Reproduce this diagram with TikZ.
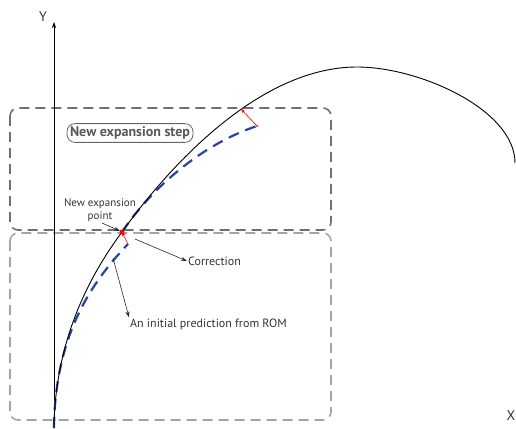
\documentclass[tikz,border=0pt]{standalone}
\usepackage{fontspec}
\setmainfont{PT Sans}
\usetikzlibrary{arrows.meta}
\definecolor{predblue}{RGB}{38,68,158}
\definecolor{framedark}{RGB}{112,112,112}
\definecolor{framelight}{RGB}{165,165,165}

\begin{document}
\begin{tikzpicture}[x=1pt,y=-1pt,
  stepframe/.style={draw=framedark, line width=1.6pt, dash pattern=on 10pt off 6pt, rounded corners=8pt},
  predframe/.style={draw=framelight, line width=1.6pt, dash pattern=on 10pt off 6pt, rounded corners=8pt},
  pred/.style={predblue, line width=2.2pt, dash pattern=on 11pt off 7pt},
  corr/.style={red, line width=0.6pt, -{Stealth[length=4.5pt,width=3.5pt]}},
  note/.style={black!85, line width=0.6pt, -{Stealth[length=6pt,width=4pt]}},
  lbl/.style={font=\fontsize{12}{14}\selectfont, text=black!80, inner sep=1pt}]
\useasboundingbox (0,0) rectangle (516,428);

\coordinate (o) at (54,428);
\coordinate (p0) at (122,232);
\coordinate (q1) at (128,244);
\coordinate (p1) at (241,109);
\coordinate (q2) at (257,126);
\coordinate (top) at (357,67);
\coordinate (e) at (515,163);

% boxes of the two steps
\draw[predframe] (10,233) rectangle (331,420);
\draw[stepframe] (10,108) rectangle (331,230);

% axes
\draw[line width=0.6pt, -{Stealth[length=6pt,width=4pt]}] (o) -- (54,22);
\node[font=\fontsize{14}{16}\selectfont, text=black!80] (ylbl) at (43,17) {Y};
\node[font=\fontsize{14}{16}\selectfont, text=black!80] (xlbl) at (511,416) {X};

% predictions from ROM
\draw[pred] (o) .. controls (55,330) and (96,278) .. (q1);
\draw[pred] (p0) .. controls (150,190) and (200,145) .. (q2);

% exact path
\draw[line width=0.9pt] (o) .. controls (55,340) and (90,275) .. (p0)
  .. controls (170,165) and (260,67) .. (top)
  .. controls (420,67) and (515,110) .. (e);

% corrections
\draw[corr] (q1) -- (p0);
\draw[corr] (q2) -- (p1);
\fill[red] (p0) circle (2.5pt);
\fill[red] (q2) circle (1pt);

% labels
\node[draw=black!60, rounded corners=8pt, line width=0.8pt, text=black!65, font=\fontsize{14}{16}\selectfont\bfseries, inner sep=3pt] (steplbl) at (130,133) {New expansion step};
\node[lbl, font=\fontsize{11}{12.5}\selectfont, align=center] (newpt) at (100,210) {New expansion\\point};
\node[lbl, anchor=west] (corrtxt) at (187,261) {Correction};
\node[lbl, anchor=west] (inittxt) at (129,324) {An initial prediction from ROM};

\coordinate (a0) at (102,223);
\coordinate (a1) at (135,239);
\coordinate (a2) at (113,258);
\draw[note] (a0) -- (120,231);
\draw[note] (a1) -- (corrtxt.west);
\draw[note] (a2) -- (inittxt.north west);
\end{tikzpicture}
\end{document}
